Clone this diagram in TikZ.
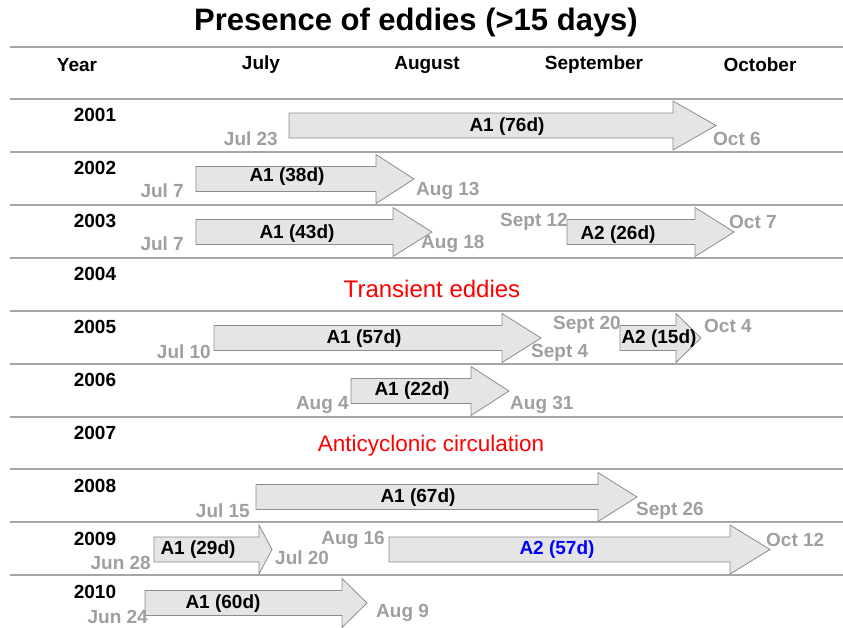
\documentclass[tikz,border=0pt]{standalone}
\usepackage{fontspec}
\setmainfont{Liberation Sans}
\begin{document}
\begin{tikzpicture}[x=1pt,y=-1pt,
  rowline/.style={draw=gray!70,line width=2.5pt},
  hdr/.style={font=\fontsize{19}{19}\selectfont\bfseries,inner sep=0pt},
  yr/.style={font=\fontsize{19}{19}\selectfont\bfseries,inner sep=0pt},
  dlab/.style={font=\fontsize{19}{19}\selectfont\bfseries,text=gray!75,inner sep=0pt},
  alab/.style={font=\fontsize{19}{19}\selectfont\bfseries,inner sep=0pt},
  note/.style={font=\fontsize{24}{24}\selectfont,text=red,inner sep=0pt},
  garr/.style={fill=gray!20,draw=gray!90,line width=0.8pt}]
\useasboundingbox (0,0) rectangle (843,627);
\newcommand\garrow[4]{% start, head base, tip, ycenter
  \path[garr] (#1,#4-12.5) -- (#2,#4-12.5) -- (#2,#4-24.5) -- (#3,#4) -- (#2,#4+24.5) -- (#2,#4+12.5) -- (#1,#4+12.5) -- cycle;}
% title
\node[font=\fontsize{31}{31}\selectfont\bfseries,inner sep=0pt] (title) at (416,22) {Presence of eddies (>15 days)};
% header
\node[hdr] (hyear) at (77,65) {Year};
\node[hdr] (hjul) at (261,65) {July};
\node[hdr] (haug) at (427,65) {August};
\node[hdr] (hsep) at (594,65) {September};
\node[hdr] (hoct) at (760,65) {October};
% row lines
\foreach \yy in {47,99,152,205,258,311,364,417,469,522,575}
  \draw[rowline] (10,\yy) -- (843,\yy);
% years
\foreach \yy/\lab in {115/2001,168/2002,221/2003,274/2004,327/2005,380/2006,433/2007,486/2008,539/2009,592/2010}
  \node[yr] at (95,\yy) {\lab};
% 2001
\garrow{289}{673}{716}{125.5}
\node[alab] (a2001) at (507,127) {A1 (76d)};
\node[dlab,anchor=east] (s2001) at (278,139) {Jul 23};
\node[dlab,anchor=west] (e2001) at (713,139) {Oct 6};
% 2002
\garrow{196}{376}{414}{179}
\node[alab] (a2002) at (287,177) {A1 (38d)};
\node[dlab,anchor=east] (s2002) at (184,191) {Jul 7};
\node[dlab,anchor=west] (e2002) at (416,191) {Aug 13};
% 2003
\garrow{196}{393}{432}{232}
\node[alab] (a2003) at (297,234) {A1 (43d)};
\node[dlab,anchor=east] (s2003) at (184,244) {Jul 7};
\node[dlab,anchor=west] (e2003) at (421,244) {Aug 18};
\garrow{567}{695}{734}{232}
\node[alab] (b2003) at (618,235) {A2 (26d)};
\node[dlab,anchor=east] (sb2003) at (568,222) {Sept 12};
\node[dlab,anchor=west] (eb2003) at (729,222) {Oct 7};
% 2004
\node[note] (n2004) at (432,289) {Transient eddies};
% 2005
\garrow{214}{502}{541}{338}
\node[alab] (a2005) at (364,339) {A1 (57d)};
\node[dlab,anchor=east] (s2005) at (211,352) {Jul 10};
\node[dlab,anchor=west] (e2005) at (531,353) {Sept 4};
\garrow{620}{676}{701}{338}
\node[alab] (b2005) at (659,339) {A2 (15d)};
\node[dlab,anchor=east] (sb2005) at (621,325) {Sept 20};
\node[dlab,anchor=west] (eb2005) at (704,326) {Oct 4};
% 2006
\garrow{351}{471}{509}{391}
\node[alab] (a2006) at (412,391) {A1 (22d)};
\node[dlab,anchor=east] (s2006) at (349,405) {Aug 4};
\node[dlab,anchor=west] (e2006) at (510,405) {Aug 31};
% 2007
\node[note,font=\fontsize{22.5}{22.5}\selectfont] (n2007) at (431,446) {Anticyclonic circulation};
% 2008
\garrow{256}{598}{637}{497}
\node[alab] (a2008) at (418,498) {A1 (67d)};
\node[dlab,anchor=east] (s2008) at (250,511) {Jul 15};
\node[dlab,anchor=west] (e2008) at (636,511) {Sept 26};
% 2009
\garrow{154}{259}{272}{549.5}
\node[alab] (a2009) at (198,550) {A1 (29d)};
\node[dlab,anchor=east] (s2009) at (151,563) {Jun 28};
\node[dlab,anchor=west] (e2009) at (275,558) {Jul 20};
\garrow{389}{730}{770}{549.5}
\node[alab,text=blue] (b2009) at (557,550) {A2 (57d)};
\node[dlab,anchor=east] (sb2009) at (385,540) {Aug 16};
\node[dlab,anchor=west] (eb2009) at (766,540) {Oct 12};
% 2010
\garrow{145}{342}{367}{603}
\node[alab] (a2010) at (223,604) {A1 (60d)};
\node[dlab,anchor=east] (s2010) at (148,617) {Jun 24};
\node[dlab,anchor=west] (e2010) at (376,613) {Aug 9};
\end{tikzpicture}
\end{document}
